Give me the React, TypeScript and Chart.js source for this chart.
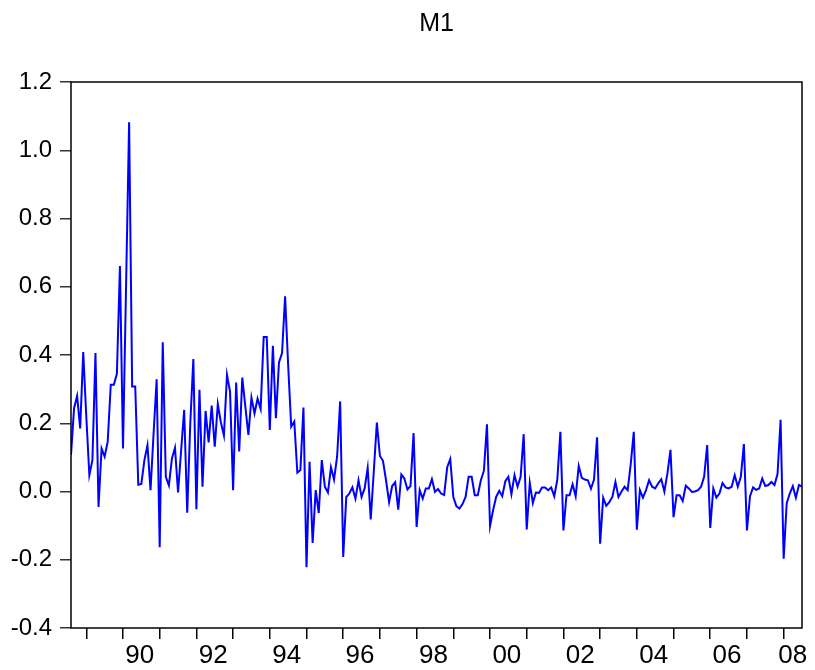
import React, { useEffect, useRef } from 'react';
import { Chart, registerables } from 'chart.js';

Chart.register(...registerables);

const TITLE = 'M1';
const START_YEAR = 1988;
const START_MONTH = 8; // first observation: August 1988, monthly

const m1Values: number[] = [
  0.107, 0.244, 0.28, 0.185, 0.409, 0.22, 0.048, 0.092, 0.406, -0.045,
  0.126, 0.102, 0.146, 0.313, 0.313, 0.345, 0.661, 0.126, 0.6, 1.082,
  0.308, 0.308, 0.02, 0.022, 0.092, 0.136, 0.004, 0.17, 0.329, -0.163,
  0.437, 0.043, 0.018, 0.097, 0.128, -0.003, 0.12, 0.239, -0.062, 0.2,
  0.388, -0.052, 0.298, 0.014, 0.236, 0.144, 0.252, 0.131, 0.256, 0.203,
  0.164, 0.342, 0.293, 0.004, 0.319, 0.117, 0.334, 0.249, 0.166, 0.275,
  0.229, 0.272, 0.242, 0.453, 0.453, 0.18, 0.427, 0.215, 0.378, 0.406,
  0.572, 0.37, 0.19, 0.205, 0.055, 0.063, 0.246, -0.222, 0.087, -0.151,
  0.004, -0.063, 0.092, 0.014, -0.003, 0.071, 0.035, 0.102, 0.264, -0.192,
  -0.016, -0.006, 0.012, -0.021, 0.033, -0.016, 0.009, 0.069, -0.082, 0.06,
  0.202, 0.104, 0.09, 0.033, -0.031, 0.016, 0.027, -0.053, 0.05, 0.038,
  0.006, 0.016, 0.171, -0.104, 0.004, -0.021, 0.009, 0.009, 0.036, -0.001,
  0.007, -0.006, -0.01, 0.071, 0.095, -0.016, -0.043, -0.05, -0.037, -0.016,
  0.043, 0.043, -0.011, -0.011, 0.033, 0.061, 0.197, -0.101, -0.055, -0.016,
  0.002, -0.014, 0.03, 0.043, -0.008, 0.048, 0.014, 0.043, 0.168, -0.111,
  0.025, -0.034, -0.003, -0.004, 0.012, 0.012, 0.004, 0.012, -0.014, 0.035,
  0.175, -0.114, -0.011, -0.011, 0.021, -0.014, 0.075, 0.04, 0.035, 0.033,
  0.008, 0.035, 0.159, -0.153, -0.018, -0.042, -0.031, -0.016, 0.028, -0.016,
  0.0, 0.014, 0.004, 0.08, 0.175, -0.112, 0.004, -0.018, 0.004, 0.033,
  0.014, 0.009, 0.024, 0.036, 0.0, 0.053, 0.122, -0.075, -0.011, -0.011,
  -0.028, 0.017, 0.009, -0.001, 0.0, 0.004, 0.014, 0.043, 0.136, -0.107,
  0.009, -0.018, -0.006, 0.025, 0.012, 0.009, 0.014, 0.048, 0.014, 0.043,
  0.139, -0.114, -0.014, 0.012, 0.005, 0.009, 0.038, 0.016, 0.019, 0.028,
  0.019, 0.051, 0.21, -0.197, -0.034, -0.006, 0.016, -0.018, 0.019, 0.014,
];

const yTickValues: number[] = [-0.4, -0.2, 0.0, 0.2, 0.4, 0.6, 0.8, 1.0, 1.2];
const yearTickYears: number[] = [
  1989, 1990, 1991, 1992, 1993, 1994, 1995, 1996, 1997, 1998,
  1999, 2000, 2001, 2002, 2003, 2004, 2005, 2006, 2007, 2008,
];
const labelYears: number[] = [1990, 1992, 1994, 1996, 1998, 2000, 2002, 2004, 2006, 2008];
const yearLabels: string[] = ['90', '92', '94', '96', '98', '00', '02', '04', '06', '08'];

const FONT_FAMILY = "'Liberation Sans', Arial, Helvetica, sans-serif";
const NARROW_FAMILY = "'Liberation Sans Narrow', 'Arial Narrow', 'Liberation Sans', Arial, sans-serif";

// decimal-year position of each monthly observation
const xPositions = m1Values.map((_, i) => START_YEAR + (START_MONTH - 1 + i) / 12);
const lastX = xPositions[xPositions.length - 1];

type TickDef = { value: number; label: string; isYear: boolean };

function buildXTicks(): TickDef[] {
  const defs: TickDef[] = [];
  yearTickYears.forEach((yr) => defs.push({ value: yr, label: '', isYear: true }));
  labelYears.forEach((yr, k) => {
    const lastMonth = Math.min(11, Math.round((lastX - yr) * 12));
    const center = yr + lastMonth / 2 / 12;
    defs.push({ value: center, label: yearLabels[k], isYear: false });
  });
  defs.sort((a, b) => a.value - b.value);
  return defs;
}

const framePlugin = {
  id: 'frame',
  afterDraw(chart: any) {
    const { ctx, chartArea } = chart;
    ctx.save();
    ctx.strokeStyle = '#000';
    ctx.lineWidth = 1.5;
    ctx.strokeRect(chartArea.left, chartArea.top, chartArea.right - chartArea.left, chartArea.bottom - chartArea.top);
    ctx.restore();
  },
};

export default function App() {
  const canvasRef = useRef<HTMLCanvasElement | null>(null);

  useEffect(() => {
    if (!canvasRef.current) return;
    const xTicks = buildXTicks();
    const chart = new Chart(canvasRef.current, {
      type: 'line',
      data: {
        datasets: [
          {
            label: TITLE,
            data: m1Values.map((v, i) => ({ x: xPositions[i], y: v })),
            borderColor: '#0000FF',
            borderWidth: 2,
            pointRadius: 0,
            tension: 0,
            fill: false,
          },
        ],
      },
      options: {
        animation: false,
        responsive: false,
        devicePixelRatio: 1,
        layout: { padding: { left: 0, right: 13, top: 0, bottom: 0 } },
        plugins: {
          legend: { display: false },
          tooltip: { enabled: false },
          title: {
            display: true,
            fullSize: false,
            text: TITLE,
            color: '#000',
            font: { family: FONT_FAMILY, size: 25, weight: 'normal' },
            padding: { top: 9, bottom: 43 },
          },
        },
        scales: {
          x: {
            type: 'linear',
            min: xPositions[0],
            max: lastX,
            afterBuildTicks: (scale: any) => {
              scale.ticks = xTicks.map((t) => ({ value: t.value }));
            },
            afterFit: (scale: any) => {
              scale.height = 42;
            },
            ticks: {
              autoSkip: false,
              maxRotation: 0,
              minRotation: 0,
              padding: 1,
              color: '#000',
              font: { family: NARROW_FAMILY, size: 26 },
              callback: (_v: any, index: number) => xTicks[index].label,
            },
            grid: {
              drawOnChartArea: false,
              drawTicks: true,
              tickLength: 11,
              lineWidth: 1.5,
              tickColor: (ctx: any) => (ctx.index !== undefined && xTicks[ctx.index] && xTicks[ctx.index].isYear ? '#000' : 'rgba(0,0,0,0)'),
            },
            border: { display: false },
          },
          y: {
            type: 'linear',
            min: -0.4,
            max: 1.2,
            afterBuildTicks: (scale: any) => {
              scale.ticks = yTickValues.map((v) => ({ value: v }));
            },
            afterFit: (scale: any) => {
              scale.width = 71;
            },
            ticks: {
              padding: 8,
              color: '#000',
              font: { family: FONT_FAMILY, size: 24 },
              callback: (v: any) => Number(v).toFixed(1),
            },
            grid: {
              drawOnChartArea: false,
              drawTicks: true,
              tickLength: 11,
              lineWidth: 1.5,
              tickColor: '#333',
            },
            border: { display: false },
          },
        },
      },
      plugins: [framePlugin],
    });
    return () => chart.destroy();
  }, []);

  return (
    <div style={{ position: 'absolute', left: 0, top: 0, width: 815, height: 670, background: '#fff' }}>
      <canvas ref={canvasRef} width={815} height={670} style={{ display: 'block', width: 815, height: 670 }} />
    </div>
  );
}
